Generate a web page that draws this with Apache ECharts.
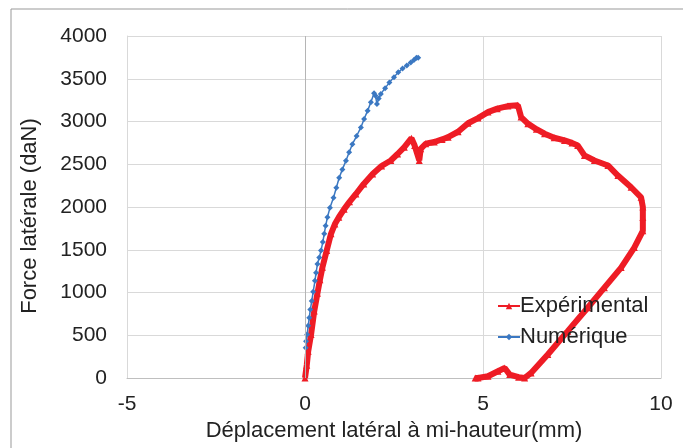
<!DOCTYPE html>
<html>
<head>
<meta charset="utf-8">
<script src="https://cdn.jsdelivr.net/npm/echarts@6/dist/echarts.min.js"></script>
<style>
html,body{margin:0;padding:0;background:#fff;}
#chart{width:683px;height:448px;}
</style>
</head>
<body>
<div id="chart"></div>
<script>
// axes
var xTicks = [-5, 0, 5, 10];
var yMax = 4000;

// Expérimental
var expX = [0,0.05,0.09,0.17,0.26,0.35,0.42,0.49,0.61,0.73,0.84,0.95,1.10,1.25,1.43,1.65,1.90,2.15,2.41,2.60,2.79,2.99,3.08,3.21,3.25,3.39,3.63,3.85,4.02,4.30,4.58,4.86,5.14,5.40,5.70,5.98,6.07,6.26,6.50,6.73,7.00,7.29,7.50,7.66,7.85,8.13,8.51,8.79,9.16,9.44,9.49,9.49,9.49,9.25,8.88,8.41,7.94,7.38,6.82,6.35,6.17,6.00,5.75,5.61,5.42,5.14,4.86,4.78];
var expY = [0,150,314,509,784,992,1150,1294,1490,1686,1800,1880,1975,2060,2152,2270,2387,2480,2544,2620,2700,2805,2719,2544,2680,2740,2760,2790,2817,2880,2980,3040,3110,3150,3180,3190,3052,2975,2910,2857,2810,2779,2750,2720,2603,2544,2486,2368,2231,2113,2000,1878,1722,1526,1291,1057,822,548,275,59,0,10,40,117,79,20,0,0];

// Numérique
var numX = [0.02,0.03,0.06,0.09,0.12,0.15,0.19,0.23,0.28,0.31,0.35,0.40,0.45,0.50,0.54,0.58,0.63,0.70,0.80,0.88,0.96,1.05,1.15,1.24,1.33,1.45,1.57,1.66,1.76,1.85,1.94,1.98,2.02,2.07,2.13,2.25,2.37,2.50,2.62,2.74,2.86,2.97,3.06,3.13,3.18];
var numY = [353,430,509,610,705,800,902,1010,1137,1230,1333,1410,1490,1590,1686,1780,1880,1990,2108,2225,2343,2440,2540,2640,2735,2830,2931,3030,3127,3225,3330,3300,3205,3270,3323,3390,3455,3519,3575,3620,3655,3690,3720,3745,3745];

function pairs(xs, ys){
    var out = [];
    for (var i = 0; i < xs.length; i++) {
        out.push([xs[i], ys[i]]);
    }
    return out;
}

var font = 'Liberation Sans, Arial, sans-serif';
var textColor = '#222';
var chart = echarts.init(document.getElementById('chart'));

chart.setOption({
    animation: false,
    backgroundColor: '#fff',
    graphic: [{
        type: 'rect',
        shape: {x: 11, y: 9, width: 700, height: 460},
        style: {fill: 'none', stroke: '#999', lineWidth: 1},
        silent: true
    }],
    grid: {left: 127, right: 22, top: 36, bottom: 70},
    legend: {
        orient: 'vertical',
        left: 492,
        top: 290,
        itemGap: 9,
        itemWidth: 22,
        itemHeight: 8,
        textStyle: {fontFamily: font, fontSize: 22, color: textColor, padding: [0, 0, 0, -5]},
        data: ['Expérimental', 'Numérique']
    },
    xAxis: {
        type: 'value',
        min: xTicks[0],
        max: xTicks[xTicks.length - 1],
        interval: 5,
        name: 'Déplacement latéral à mi-hauteur(mm)',
        nameLocation: 'middle',
        nameGap: 35,
        nameTextStyle: {fontFamily: font, fontSize: 22, color: textColor},
        axisLine: {onZero: false, lineStyle: {color: '#bfbfbf'}},
        axisTick: {show: false},
        axisLabel: {fontFamily: font, fontSize: 21, color: textColor, margin: 16},
        splitLine: {show: true, lineStyle: {color: '#d9d9d9'}}
    },
    yAxis: {
        type: 'value',
        min: 0,
        max: yMax,
        interval: 500,
        name: 'Force latérale (daN)',
        nameLocation: 'middle',
        nameGap: 86,
        nameTextStyle: {fontFamily: font, fontSize: 22, color: textColor, padding: [0, 18, 0, 0]},
        axisLine: {show: true, onZero: false, lineStyle: {color: '#d9d9d9'}},
        axisTick: {show: false},
        axisLabel: {fontFamily: font, fontSize: 21, color: textColor, margin: 20, formatter: function(v){ return String(v); }},
        splitLine: {show: true, lineStyle: {color: '#d9d9d9'}}
    },
    series: [{
        name: 'Expérimental',
        type: 'line',
        data: pairs(expX, expY),
        symbol: 'triangle',
        symbolSize: 7,
        color: '#ee1c25',
        lineStyle: {width: 6, color: '#ee1c25'},
        itemStyle: {color: '#ee1c25'},
        z: 3,
        markLine: {
            silent: true,
            symbol: 'none',
            label: {show: false},
            lineStyle: {color: '#b5b5b5', type: 'solid', width: 1},
            data: [{xAxis: 0}]
        }
    }, {
        name: 'Numérique',
        type: 'line',
        data: pairs(numX, numY),
        symbol: 'diamond',
        symbolSize: 6,
        color: '#3b78c2',
        lineStyle: {width: 1.5, color: '#3b78c2'},
        itemStyle: {color: '#3b78c2'},
        z: 4
    }]
});
</script>
</body>
</html>
